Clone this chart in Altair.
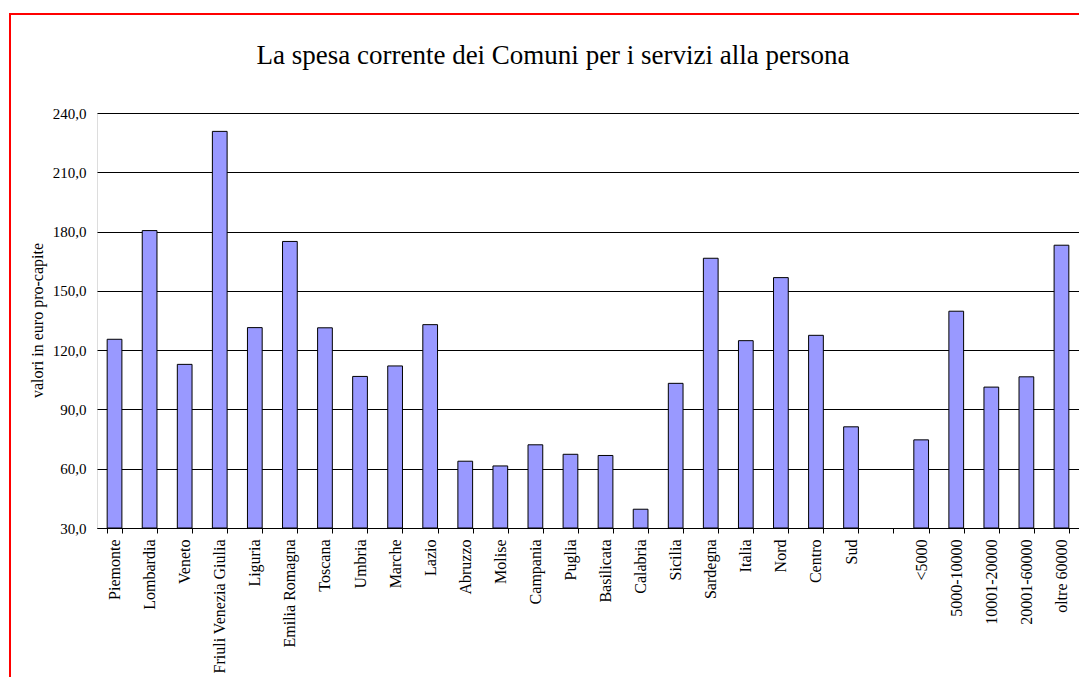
import altair as alt
import pandas as pd

categories = ["Piemonte", "Lombardia", "Veneto", "Friuli Venezia Giulia", "Liguria",
              "Emilia Romagna", "Toscana", "Umbria", "Marche", "Lazio", "Abruzzo",
              "Molise", "Campania", "Puglia", "Basilicata", "Calabria", "Sicilia",
              "Sardegna", "Italia", "Nord", "Centro", "Sud", " ",
              "<5000", "5000-10000", "10001-20000", "20001-60000", "oltre 60000"]
values = [125.5, 180.5, 112.8, 230.7, 131.4,
          175.0, 131.3, 106.7, 112.0, 132.9, 63.8,
          61.4, 72.1, 67.3, 66.7, 39.5, 103.2,
          166.5, 124.8, 156.7, 127.5, 81.2, None,
          74.6, 139.7, 101.3, 106.5, 173.1]
y_ticks = [30, 60, 90, 120, 150, 180, 210, 240]

df = pd.DataFrame({"cat": categories, "val": values}).dropna()

FONT = "Liberation Serif"

bars = alt.Chart(df).mark_bar(
    color="#9999FF", stroke="black", strokeWidth=1
).encode(
    x=alt.X("cat:N", title=None,
            scale=alt.Scale(domain=categories, paddingInner=0.58, paddingOuter=0.29),
            axis=alt.Axis(labelAngle=-90, labelFont=FONT, labelFontSize=16,
                          labelColor="black", labelPadding=6, tickBand="extent",
                          tickSize=5, tickColor="black", domainColor="black",
                          labelLimit=300)),
    y=alt.Y("val:Q", title="valori in euro pro-capite",
            scale=alt.Scale(domain=[30, 240], zero=False, nice=False),
            axis=alt.Axis(values=y_ticks, grid=True, gridColor="black", gridOpacity=1,
                          domain=False, ticks=False, labelFont=FONT, labelFontSize=15,
                          labelColor="black", labelPadding=11,
                          labelExpr="replace(format(datum.value, '.1f'), '.', ',')",
                          titleFont=FONT, titleFontSize=16, titleFontWeight="normal",
                          titleColor="black", titleX=-60, titleY=207,
                          titleAngle=-90, titleAlign="center", titleBaseline="middle")),
    y2=alt.Y2Datum(30),
)

border = alt.Chart(alt.Data(values=[{}])).mark_rect(
    fill=None, stroke="#FF0000", strokeWidth=2
).encode(
    x=alt.value(-87), x2=alt.value(1300), y=alt.value(-99), y2=alt.value(900)
)

chart = alt.layer(border, bars).properties(
    width=982, height=415,
    title=alt.TitleParams("La spesa corrente dei Comuni per i servizi alla persona",
                          font=FONT, fontSize=27, fontWeight="normal", color="black",
                          anchor="middle", dx=-35, offset=-57),
    autosize=alt.AutoSizeParams(type="none"),
    padding={"left": 97, "top": 113, "right": 0, "bottom": 149},
).configure_view(stroke=None).configure(background="white")

chart.save("out.html", embed_options={"renderer": "svg", "actions": False})
